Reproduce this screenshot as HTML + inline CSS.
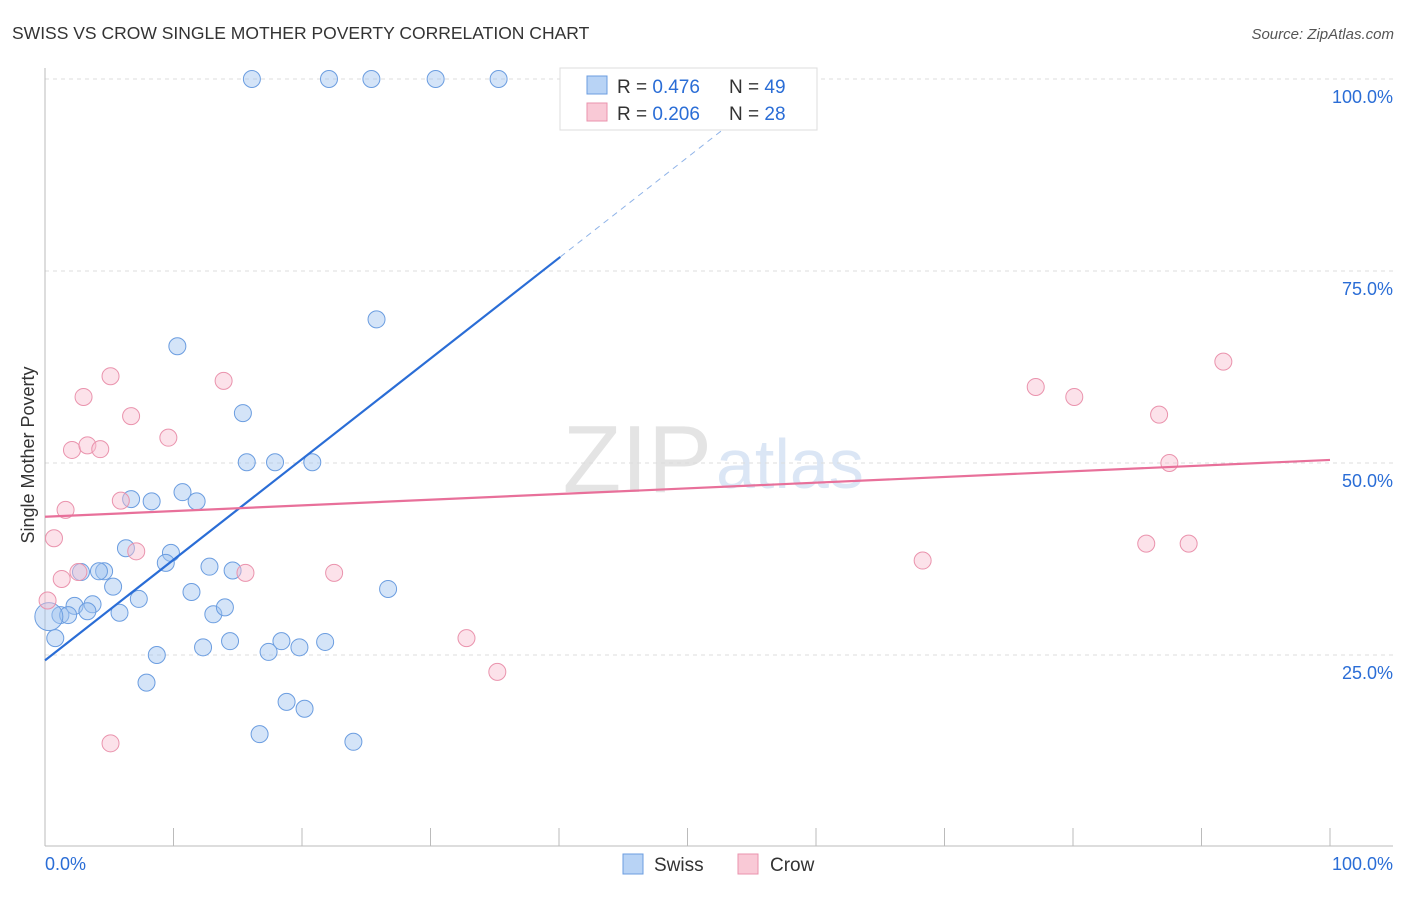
<!DOCTYPE html>
<html><head><meta charset="utf-8"><style>
body{margin:0;background:#fff;font-family:"Liberation Sans",sans-serif}
svg text{font-family:"Liberation Sans",sans-serif}
</style></head><body>
<svg width="1406" height="892">
<text x="12" y="39" font-size="17.5" fill="#333">SWISS VS CROW SINGLE MOTHER POVERTY CORRELATION CHART</text>
<text x="1394" y="39" font-size="15" fill="#555" text-anchor="end" font-style="italic">Source: ZipAtlas.com</text>
<text x="712" y="492" font-size="96" fill="#e4e4e4" text-anchor="end" font-family="Liberation Serif">ZIP</text>
<text x="716" y="488" font-size="70" fill="#dbe6f5">atlas</text>
<g id="grid"></g>
<g id="axes"></g>
<g id="pts"></g>
<g id="lines"></g>
<text x="34" y="455" font-size="18" fill="#333" text-anchor="middle" transform="rotate(-90 34 455)">Single Mother Poverty</text>
<g>
<rect x="560" y="68" width="257" height="62" fill="#fff" stroke="#ddd"/>
<rect x="587" y="76" width="20" height="18" fill="#b8d3f5" stroke="#6b9de0"/>
<rect x="587" y="103" width="20" height="18" fill="#f9c9d6" stroke="#ea93ad"/>
<text x="617" y="93" font-size="19" fill="#333">R = <tspan fill="#2a6dd6">0.476</tspan></text>
<text x="729" y="93" font-size="19" fill="#333">N = <tspan fill="#2a6dd6">49</tspan></text>
<text x="617" y="120" font-size="19" fill="#333">R = <tspan fill="#2a6dd6">0.206</tspan></text>
<text x="729" y="120" font-size="19" fill="#333">N = <tspan fill="#2a6dd6">28</tspan></text>
</g>
<g>
<rect x="623" y="854" width="20" height="20" fill="#b8d3f5" stroke="#6b9de0"/>
<text x="654" y="871" font-size="19" fill="#333">Swiss</text>
<rect x="738" y="854" width="20" height="20" fill="#f9c9d6" stroke="#ea93ad"/>
<text x="770" y="871" font-size="19" fill="#333">Crow</text>
</g>
</svg>
<script>
const swissX=[16.1,22.1,25.4,30.4,35.3,25.8,10.3,15.4,15.7,17.9,20.8,10.7,11.8,8.3,6.7,6.3,9.8,9.4,2.8,4.6,4.2,5.3,7.3,11.4,12.8,14.6,26.7,3.7,2.3,3.3,1.2,1.8,5.8,13.1,14.0,0.8,14.4,12.3,18.4,21.8,17.4,19.8,8.7,7.9,18.8,20.2,16.7,24.0,0.3];
const swissY=[100,100,100,100,100,68.7,65.2,56.5,50.1,50.1,50.1,46.2,45.0,45.0,45.3,38.9,38.3,37.0,35.8,35.9,35.9,33.9,32.3,33.2,36.5,36.0,33.6,31.6,31.4,30.7,30.2,30.2,30.5,30.3,31.2,27.2,26.8,26.0,26.8,26.7,25.4,26.0,25.0,21.4,18.9,18.0,14.7,13.7,30.0];
const swissR=[8.5,8.5,8.5,8.5,8.5,8.5,8.5,8.5,8.5,8.5,8.5,8.5,8.5,8.5,8.5,8.5,8.5,8.5,8.5,8.5,8.5,8.5,8.5,8.5,8.5,8.5,8.5,8.5,8.5,8.5,8.5,8.5,8.5,8.5,8.5,8.5,8.5,8.5,8.5,8.5,8.5,8.5,8.5,8.5,8.5,8.5,8.5,8.5,14];
const crowX=[5.1,13.9,3.0,6.7,9.6,2.1,3.3,4.3,5.9,1.6,0.7,7.1,2.6,1.3,15.6,22.5,0.2,32.8,35.2,5.1,68.3,77.1,80.1,86.7,91.7,87.5,85.7,89.0];
const crowY=[61.3,60.7,58.6,56.1,53.3,51.7,52.3,51.8,45.1,43.9,40.2,38.5,35.8,34.9,35.7,35.7,32.1,27.2,22.8,13.5,37.3,59.9,58.6,56.3,63.2,50.0,39.5,39.5];
const xTicks=[0,10,20,30,40,50,60,70,80,90,100];
const yTicks=[25,50,75,100];
const yLabels=["25.0%","50.0%","75.0%","100.0%"];
const swissFit=[24.3,1.31];
const crowFit=[43.0,0.074];
const X=v=>45+v*12.85, Y=v=>847-v*7.68;
const NS="http://www.w3.org/2000/svg";
function mk(t,a,p){const e=document.createElementNS(NS,t);for(const k in a)e.setAttribute(k,a[k]);document.getElementById(p).appendChild(e);return e;}
yTicks.forEach((t,i)=>{
 const g=mk('line',{x1:45,x2:1393,y1:Y(t),y2:Y(t),stroke:'#ddd','stroke-dasharray':'4,4'},'grid');
 
 
 const l=mk('text',{x:1393,y:Y(t)+24,'font-size':18,fill:'#2a6dd6','text-anchor':'end'},'axes');
 l.textContent=yLabels[i];
 
 
});
mk('line',{x1:45,x2:45,y1:68,y2:846,stroke:'#bbb'},'axes');
mk('line',{x1:45,x2:1393,y1:846,y2:846,stroke:'#bbb'},'axes');
xTicks.forEach(t=>{const e=mk('line',{x1:X(t),x2:X(t),y1:828,y2:846,stroke:'#bbb'},'axes');
 
 });
let a=mk('text',{x:45,y:870,'font-size':18,fill:'#2a6dd6'},'axes');a.textContent='0.0%';


a=mk('text',{x:1393,y:870,'font-size':18,fill:'#2a6dd6','text-anchor':'end'},'axes');a.textContent='100.0%';


swissX.forEach((x,i)=>{const c=mk('circle',{cx:X(x),cy:Y(swissY[i]),r:swissR[i],fill:'rgba(160,195,240,0.45)',stroke:'#6b9de0','stroke-width':1},'pts');
 
 });
crowX.forEach((x,i)=>{const c=mk('circle',{cx:X(x),cy:Y(crowY[i]),r:8.5,fill:'rgba(248,190,208,0.45)',stroke:'#ea93ad','stroke-width':1},'pts');
 
 });
let s=mk('line',{x1:X(0),y1:Y(swissFit[0]),x2:X(40.1),y2:Y(swissFit[0]+swissFit[1]*40.1),stroke:'#2a6dd6','stroke-width':2.2},'lines');


s=mk('line',{x1:X(40.1),y1:Y(swissFit[0]+swissFit[1]*40.1),x2:X(57.8),y2:Y(swissFit[0]+swissFit[1]*57.8),stroke:'#8fb3e8','stroke-width':1,'stroke-dasharray':'6,5'},'lines');


s=mk('line',{x1:X(0),y1:Y(crowFit[0]),x2:X(100),y2:Y(crowFit[0]+crowFit[1]*100),stroke:'#e8709a','stroke-width':2.2},'lines');


</script>
</body></html>
